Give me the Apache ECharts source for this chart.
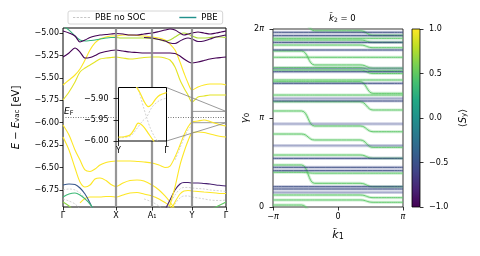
<!DOCTYPE html>
<html><head><meta charset="utf-8">
<script src="https://cdn.jsdelivr.net/npm/echarts@6/dist/echarts.min.js"></script>
<style>html,body{margin:0;padding:0;background:#fff}#c{width:480px;height:256px}</style>
</head><body><div id="c"></div>
<script>
// ---------- LEFT PANEL: band structure ----------
const kPath = [0, 6, 12, 17, 22, 27, 32, 37, 43, 48, 53, 60, 67, 74, 81, 89, 96, 102, 107, 112, 117, 121, 125, 129, 135, 141, 147, 153, 158, 163];
const kTickPos = [0, 53, 89, 129, 163];
const kTickLabels = ['Γ', 'X', 'A₁', 'Y', 'Γ'];
const eTicks = [-6.75, -6.5, -6.25, -6.0, -5.75, -5.5, -5.25, -5.0];
const eRange = [-6.94, -4.944];
const eFermi = -5.944;
function gap(n) { return new Array(n).fill(null); }

const bandY1 = [-5.580, -5.524, -5.468, -5.401, -5.301, -5.190, -5.111, -5.067, -5.045, -5.033, -5.033, -5.022, -5.022, -5.028, -5.033, -5.045, -5.056, -5.078, -5.123, -5.190, -5.323, -5.446, -5.557, -5.635, -5.602, -5.580, -5.569, -5.569, -5.569, -5.580];
const bandY2 = [-5.747, -5.658, -5.546, -5.435, -5.390, -5.357, -5.323, -5.290, -5.279, -5.273, -5.268, -5.279, -5.290, -5.284, -5.273, -5.268, -5.268, -5.279, -5.301, -5.379, -5.524, -5.613, -5.691, -5.769, -5.713, -5.702, -5.691, -5.691, -5.691, -5.691];
const bandG1a = [-4.922, -4.967, -5.033, -5.078, -5.089, -5.084, -5.078, -5.067, -5.056, -5.050, -5.050];
const bandG1b = [...gap(10), -5.050, -5.056, -5.056, -5.056, -5.056, -5.061, -5.072, -5.089, -5.078, -5.045, -5.011, -5.000, -5.011, -5.033, -5.056, -5.056, -5.050, -5.045, -5.045, -5.050];
const bandP0 = [-4.978, -5.000, -5.033, -5.100, -5.078, -5.050, -5.033, -5.022, -5.017, -5.011, -5.006, -5.011, -5.022, -5.022, -5.011, -5.000, -4.983, -4.967, -4.955, -4.967, -5.000, -5.022, -5.011, -5.000, -4.989, -5.000, -5.011, -5.000, -4.989, -4.978];
const bandP1 = [...gap(14), -5.050, -5.056, -5.072, -5.089, -5.111, -5.117, -5.089, -5.067, -5.056, -5.067, -5.095, -5.089, -5.067, -5.045, -5.033, -5.022];
const bandP2 = [-5.268, -5.223, -5.167, -5.212, -5.279, -5.273, -5.251, -5.223, -5.206, -5.195, -5.190, -5.201, -5.212, -5.217, -5.223, -5.223, -5.223, -5.223, -5.223, -5.228, -5.256, -5.290, -5.318, -5.334, -5.323, -5.307, -5.290, -5.279, -5.273, -5.268];
const bandY3 = [-6.026, -6.137, -6.304, -6.416, -6.527, -6.544, -6.516, -6.472, -6.443, -6.432, -6.427, -6.427, -6.427, -6.432, -6.438, -6.449, -6.472, -6.499, -6.483, -6.382, -6.249, -6.137, -6.048, -5.992, -5.981, -5.970, -5.986, -6.009, -6.026, -6.037];
const bandY4 = [-6.159, -6.304, -6.505, -6.661, -6.717, -6.695, -6.628, -6.617, -6.645, -6.689, -6.711, -6.672, -6.645, -6.639, -6.650, -6.695, -6.750, -6.817, -6.884, -6.962, -7.040];
const bandY5 = [...gap(3), -6.895, -6.845, -6.828, -6.828, -6.828, -6.823, -6.823, -6.828, -6.806, -6.784, -6.778, -6.795, -6.817, -6.850, -6.890, -6.929, -6.996];
const bandP3 = [...gap(17), -6.973, -6.862, -6.750, -6.683, -6.667, -6.667, -6.672, -6.672, -6.678, -6.683, -6.695, -6.700, -6.706];
const bandY6 = [...gap(18), -6.996, -6.884, -6.795, -6.761, -6.756, -6.761, -6.767, -6.773, -6.778, -6.784, -6.789, -6.789];
const bandY7 = [...gap(18), -6.918, -6.717, -6.472, -6.327, -6.204, -6.115, -6.104, -6.109, -6.126, -6.142, -6.154, -6.159];
const bandB1 = [-6.695, -6.683, -6.689, -6.728, -6.795, -6.895, -7.029];
const bandG3 = [-6.828, -6.795, -6.784, -6.806, -6.850, -6.906, -6.996];
const bandG4 = [-6.884, -6.929, -6.996];
const bandG5 = [...gap(26), -6.973, -6.940, -6.912, -6.884];
// spin expectation <S_y> of each band (colour)
const bandSpin = [['Y1', bandY1, 1.0], ['Y2', bandY2, 0.92], ['G1a', bandG1a, 0.3], ['G1b', bandG1b, 0.75],
  ['P0', bandP0, -1.0], ['P1', bandP1, -0.95], ['P2', bandP2, -1.0], ['Y3', bandY3, 1.0], ['Y4', bandY4, 1.0],
  ['Y5', bandY5, 1.0], ['P3', bandP3, -0.82], ['Y6', bandY6, 1.0], ['Y7', bandY7, 1.0], ['B1', bandB1, -0.45],
  ['G3', bandG3, 0.35], ['G4', bandG4, 0.65], ['G5', bandG5, 0.5]];
// PBE without SOC (grey)
const noSoc1 = [-6.750, -6.739, -6.750, -6.784, -6.839, -6.918, -7.018];
const noSoc2 = [-6.850, -6.873, -6.906, -6.962];
const noSoc3 = [...gap(17), -7.018, -6.906, -6.806, -6.739, -6.722, -6.722, -6.728, -6.734, -6.739, -6.750, -6.756, -6.761, -6.767];
const noSoc4 = [...gap(18), -7.018, -6.906, -6.839, -6.817, -6.817, -6.828, -6.839, -6.850, -6.862, -6.867, -6.867, -6.862];
const noSoc5 = [...gap(14), -6.850, -6.884, -6.929, -6.984];
const noSoc6 = [...gap(19), -6.416, -6.282, -6.171, -6.081, -6.026];

// inset (Y -> Γ, zoom around E_F)
const insetRange = [-6.00, -5.874];
const insetTicks = [-6.00, -5.95, -5.90];
const insetXLabels = ['Y', 'Γ'];
const insetUpperK = [0.33, 0.38, 0.45, 0.53, 0.62, 0.70, 0.78, 0.86, 1.0];
const insetUpperE = [-5.862, -5.874, -5.887, -5.906, -5.919, -5.913, -5.900, -5.892, -5.886];
const insetLowerK = [0, 0.12, 0.24, 0.33, 0.41, 0.52, 0.62, 0.72, 0.80];
const insetLowerE = [-5.991, -5.990, -5.986, -5.972, -5.958, -5.966, -5.982, -5.998, -6.012];
const insetGreyAK = [0.40, 0.47, 0.53, 0.585, 0.65, 0.75, 0.85];
const insetGreyAE = [-5.872, -5.900, -5.924, -5.944, -5.966, -5.990, -6.005];
const insetGreyBK = [0, 0.25, 0.40, 0.50, 0.585, 0.70, 0.85, 1.0];
const insetGreyBE = [-5.993, -5.988, -5.968, -5.953, -5.944, -5.920, -5.905, -5.899];

// ---------- RIGHT PANEL: Wannier centre flow (units of π) ----------
const kFlat = [-1, 1];
const kFlow = [-1, -0.56, -0.36, 0.34, 0.54, 1];
const blueDark = [1.963, 1.925, 1.850, 1.764, 1.520, 1.390, 1.191, 0.547, 0.446, 0.408, 0.228, 0.202];
const blueLight = [1.558, 1.221, 0.933, 0.689, 0.165];
const flow01 = [2.10, 2.10, 1.98, 1.98, 1.93, 1.93];
const flow02 = [0.022, 0.022, -0.10, -0.10, -0.10, -0.10];
const flow03 = [1.895, 1.895, 1.895, 1.895, 1.895, 1.895];
const flow04 = [1.876, 1.876, 1.876, 1.876, 1.850, 1.850];
const flow05 = [1.820, 1.820, 1.820, 1.820, 1.790, 1.790];
const flow06 = [1.753, 1.753, 1.596, 1.596, 1.560, 1.560];
const flow07 = [1.682, 1.682, 1.682, 1.682, 1.682, 1.682];
const flow08 = [1.566, 1.566, 1.566, 1.566, 1.530, 1.530];
const flow09 = [1.539, 1.539, 1.539, 1.539, 1.500, 1.500];
const flow10 = [1.427, 1.427, 1.427, 1.427, 1.427, 1.427];
const flow11 = [1.408, 1.408, 1.408, 1.408, 1.277, 1.277];
const flow12 = [1.258, 1.258, 1.258, 1.258, 1.258, 1.258];
const flow13 = [1.183, 1.183, 1.183, 1.183, 1.090, 1.090];
const flow14 = [1.079, 1.079, 0.910, 0.910, 0.846, 0.846];
const flow15 = [0.820, 0.820, 0.753, 0.753, 0.670, 0.670];
const flow16 = [0.584, 0.584, 0.584, 0.584, 0.547, 0.547];
const flow17 = [0.472, 0.472, 0.266, 0.266, 0.228, 0.228];
const flow18 = [0.390, 0.390, 0.380, 0.380, 0.380, 0.380];
const flow19 = [0.135, 0.135, 0.135, 0.135, 0.105, 0.105];
const flow20 = [0.079, 0.079, 0.079, 0.079, 0.053, 0.053];
const greenFlows = [flow01, flow02, flow03, flow04, flow05, flow06, flow07, flow08, flow09, flow10,
  flow11, flow12, flow13, flow14, flow15, flow16, flow17, flow18, flow19, flow20];
const cbRange = [-1, 1];

// ---------- helpers ----------
const FONT = 'DejaVu Sans';
const VIR = ['#440154', '#482475', '#414487', '#355f8d', '#2a788e', '#21918c', '#22a884', '#44bf70', '#7ad151', '#bddf26', '#fde725'];
function hex(c) { return [1, 3, 5].map(i => parseInt(c.substr(i, 2), 16)); }
function vir(s) {
  const t = Math.max(0, Math.min(1, (s + 1) / 2)) * 10;
  const i = Math.min(9, Math.floor(t)); const f = t - i;
  const a = hex(VIR[i]), b = hex(VIR[i + 1]);
  return 'rgb(' + a.map((v, j) => Math.round(v + (b[j] - v) * f)).join(',') + ')';
}
function pts(xs, ys) { return xs.map((x, i) => [x, ys[i]]).filter(p => p[1] != null); }
function num(v, d) { return (v < 0 ? '−' : '') + Math.abs(v).toFixed(d); }

const chart = echarts.init(document.getElementById('c'), null, { renderer: 'canvas', width: 480, height: 256 });
const series = [];

series.push({ name: 'PBE no SOC', type: 'line', xAxisIndex: 0, yAxisIndex: 0, data: pts(kPath, noSoc1), symbol: 'none', smooth: 0.3,
  lineStyle: { color: '#c6c6c6', width: 0.8, type: [2, 1.5] }, itemStyle: { color: '#c6c6c6' }, z: 2, silent: true });
[noSoc2, noSoc3, noSoc4, noSoc5, noSoc6].forEach(arr => series.push({ name: 'PBE no SOC', type: 'line', xAxisIndex: 0, yAxisIndex: 0,
  data: pts(kPath, arr), symbol: 'none', smooth: 0.3, lineStyle: { color: '#c6c6c6', width: 0.8, type: [2, 1.5] }, z: 2, silent: true }));
series.push({ name: 'PBE', type: 'line', xAxisIndex: 0, yAxisIndex: 0, data: [], symbol: 'none',
  lineStyle: { color: '#21918c', width: 1.5 }, itemStyle: { color: '#21918c' } });
// high-symmetry lines
series.push({ name: 'hs', type: 'line', xAxisIndex: 0, yAxisIndex: 0, data: [], z: 1, silent: true,
  markLine: { symbol: ['none', 'none'], silent: true, animation: false, label: { show: false },
    lineStyle: { color: '#8c8c8c', width: 2.2, type: 'solid', opacity: 0.9 },
    data: kTickPos.slice(1, 4).map(k => ({ xAxis: k })) } });
bandSpin.forEach(b => series.push({ name: b[0], type: 'line', xAxisIndex: 0, yAxisIndex: 0, data: pts(kPath, b[1]),
  symbol: 'none', smooth: 0.3, lineStyle: { color: vir(b[2]), width: 1.1 }, z: 3, silent: true }));
// Fermi level + zoom indicator
series.push({ name: 'ef', type: 'line', xAxisIndex: 0, yAxisIndex: 0, data: [], z: 4, silent: true,
  markLine: { symbol: ['none', 'none'], silent: true, animation: false,
    lineStyle: { color: '#777', width: 1, type: [1, 1.5] },
    label: { show: true, position: 'insideStartTop', distance: 1, formatter: '{e|E}{f|F}',
      rich: { e: { fontFamily: FONT, fontStyle: 'italic', fontSize: 9, color: '#000' }, f: { fontFamily: FONT, fontSize: 6.5, color: '#000', verticalAlign: 'bottom' } } },
    data: [{ yAxis: eFermi }] },
  markArea: { silent: true, animation: false, itemStyle: { color: 'rgba(0,0,0,0)', borderColor: '#808080', borderWidth: 0.8 },
    data: [[{ xAxis: kTickPos[3], yAxis: insetRange[1] }, { xAxis: kTickPos[4], yAxis: insetRange[0] }]] } });
// inset
[[insetGreyAK, insetGreyAE, '#c6c6c6', 0.8], [insetGreyBK, insetGreyBE, '#c6c6c6', 0.8],
 [insetUpperK, insetUpperE, vir(1), 1.2], [insetLowerK, insetLowerE, vir(1), 1.2]].forEach((s, i) =>
  series.push({ name: 'inset' + i, type: 'line', xAxisIndex: 1, yAxisIndex: 1, data: pts(s[0], s[1]), symbol: 'none', smooth: 0.3,
    lineStyle: { color: s[2], width: s[3], type: i < 2 ? [2, 1.5] : 'solid' }, z: 12, silent: true }));
series.push({ name: 'insetEf', type: 'line', xAxisIndex: 1, yAxisIndex: 1, data: [], z: 12, silent: true,
  markLine: { symbol: ['none', 'none'], silent: true, animation: false, label: { show: false },
    lineStyle: { color: '#777', width: 1, type: [1, 1.5] }, data: [{ yAxis: eFermi }] } });

// right panel: halos then cores
const greenCore = vir(0.48), greenHalo = 'rgba(95,201,110,0.30)';
const blueCore = '#34467e', blueHalo = 'rgba(90,100,160,0.30)';
function flowLine(xs, ys, color, width, z) {
  return { type: 'line', xAxisIndex: 2, yAxisIndex: 2, data: pts(xs, ys), symbol: 'none', smooth: 0.5, smoothMonotone: 'x',
    lineStyle: { color: color, width: width }, z: z, silent: true };
}
greenFlows.forEach(f => series.push(flowLine(kFlow, f, greenHalo, 3, 2)));
blueDark.concat(blueLight).forEach(v => series.push(flowLine(kFlat, [v, v], blueHalo, 3.2, 2)));
greenFlows.forEach(f => series.push(flowLine(kFlow, f, greenCore, 0.9, 3)));
blueDark.forEach(v => series.push(flowLine(kFlat, [v, v], blueCore, 0.9, 4)));
blueLight.forEach(v => series.push(flowLine(kFlat, [v, v], 'rgba(72,82,150,0.45)', 0.8, 4)));

// colour bar
series.push({ type: 'bar', xAxisIndex: 3, yAxisIndex: 3, data: [cbRange[1]], barWidth: '100%', silent: true,
  itemStyle: { color: new echarts.graphic.LinearGradient(0, 0, 0, 1, VIR.slice(5).reverse().map((c, i) => ({ offset: i / 5, color: c }))) } });
series.push({ type: 'bar', xAxisIndex: 3, yAxisIndex: 3, data: [cbRange[0]], barWidth: '100%', barGap: '-100%', silent: true,
  itemStyle: { color: new echarts.graphic.LinearGradient(0, 0, 0, 1, VIR.slice(0, 6).reverse().map((c, i) => ({ offset: i / 5, color: c }))) } });

const lab = { fontFamily: FONT, fontSize: 8, color: '#000' };
const tick = (len) => ({ show: true, length: len, lineStyle: { color: '#000', width: 0.8 } });
const noLine = { show: false, onZero: false };
const piRich = { p: { fontFamily: FONT, fontStyle: 'italic', fontSize: 8, color: '#000' } };
const dashIcon = 'path://M0,0h2.4v1h-2.4z M3.9,0h2.4v1h-2.4z M7.8,0h2.4v1h-2.4z M11.7,0h2.4v1h-2.4z M15.6,0h2.4v1h-2.4z';
const solidIcon = 'path://M0,0h18v1.5h-18z';

chart.setOption({
  animation: false,
  textStyle: { fontFamily: FONT },
  title: { text: '{k|k̃}{s|2}{t| = 0}', left: 324, top: 9,
    textStyle: { fontSize: 8, fontWeight: 'normal', color: '#000', fontFamily: FONT,
      rich: { k: { fontFamily: FONT, fontStyle: 'italic', fontSize: 8.5, color: '#000' }, s: { fontFamily: FONT, fontSize: 6, color: '#000', verticalAlign: 'bottom' }, t: { fontFamily: FONT, fontSize: 8.5, color: '#000' } } } },
  legend: { data: [{ name: 'PBE no SOC', icon: dashIcon }, { name: 'PBE', icon: solidIcon }], left: 68, top: 11,
    itemWidth: 17, itemHeight: 8, itemGap: 34, padding: [2, 5],
    borderColor: '#cccccc', borderWidth: 0.8, borderRadius: 2, selectedMode: false,
    textStyle: { fontSize: 8.5, fontFamily: FONT, color: '#000' } },
  grid: [
    { left: 63, top: 28, width: 163, height: 179, show: true, borderColor: '#000', borderWidth: 1, backgroundColor: 'transparent' },
    { left: 118.5, top: 87.5, width: 48, height: 53.5, show: true, borderColor: '#000', borderWidth: 1, backgroundColor: '#fff', z: 10 },
    { left: 273, top: 29, width: 130, height: 178, show: true, borderColor: '#000', borderWidth: 0.8, backgroundColor: 'transparent' },
    { left: 412, top: 29, width: 8, height: 178, show: true, borderColor: '#000', borderWidth: 0.8, backgroundColor: 'transparent', z: 5 }
  ],
  xAxis: [
    { type: 'value', gridIndex: 0, min: kTickPos[0], max: kTickPos[4], axisLine: noLine, splitLine: { show: false },
      axisTick: Object.assign(tick(3.5), { customValues: kTickPos }),
      axisLabel: Object.assign({}, lab, { customValues: kTickPos, margin: 5, formatter: v => kTickLabels[kTickPos.indexOf(v)] }) },
    { type: 'value', gridIndex: 1, min: 0, max: 1, z: 11, axisLine: noLine, splitLine: { show: false },
      axisTick: Object.assign(tick(5), { customValues: [0, 1] }),
      axisLabel: Object.assign({}, lab, { customValues: [0, 1], margin: 6, formatter: v => insetXLabels[v] }) },
    { type: 'value', gridIndex: 2, min: -1, max: 1, interval: 1, axisLine: noLine, splitLine: { show: false },
      axisTick: tick(3.5),
      axisLabel: Object.assign({}, lab, { margin: 6, rich: piRich, formatter: v => v === 0 ? '0' : (v < 0 ? '−{p|π}' : '{p|π}') }),
      name: '{k|k̃}{s|1}', nameLocation: 'middle', nameGap: 23,
      nameTextStyle: { fontFamily: FONT, fontSize: 11, color: '#000',
        rich: { k: { fontFamily: FONT, fontStyle: 'italic', fontSize: 11, color: '#000' }, s: { fontFamily: FONT, fontSize: 8, color: '#000', verticalAlign: 'bottom' } } } },
    { type: 'category', gridIndex: 3, data: ['cb'], show: false, axisLine: noLine }
  ],
  yAxis: [
    { type: 'value', gridIndex: 0, min: eRange[0], max: eRange[1], axisLine: noLine, splitLine: { show: false },
      axisTick: Object.assign(tick(3.5), { customValues: eTicks }),
      axisLabel: Object.assign({}, lab, { customValues: eTicks, margin: 4, formatter: v => num(v, 2) }),
      name: '{i|E} − {i|E}{s|vac} [eV]', nameLocation: 'middle', nameRotate: 90, nameGap: 42,
      nameTextStyle: { fontFamily: FONT, fontSize: 10, color: '#000',
        rich: { i: { fontFamily: FONT, fontStyle: 'italic', fontSize: 10, color: '#000' }, s: { fontFamily: FONT, fontSize: 7, color: '#000', verticalAlign: 'bottom' } } } },
    { type: 'value', gridIndex: 1, min: insetRange[0], max: insetRange[1], z: 11, axisLine: noLine, splitLine: { show: false },
      axisTick: Object.assign(tick(5), { customValues: insetTicks }),
      axisLabel: Object.assign({}, lab, { customValues: insetTicks, margin: 10, formatter: v => num(v, 2) }) },
    { type: 'value', gridIndex: 2, min: 0, max: 2, interval: 1, axisLine: noLine, splitLine: { show: false },
      axisTick: tick(3.5),
      axisLabel: Object.assign({}, lab, { margin: 9, rich: piRich, formatter: v => v === 0 ? '0' : (v === 1 ? '{p|π}' : '2{p|π}') }),
      name: '{g|γ}{s|0}', nameLocation: 'middle', nameRotate: 90, nameGap: 17,
      nameTextStyle: { fontFamily: FONT, fontSize: 10, color: '#000',
        rich: { g: { fontFamily: FONT, fontStyle: 'italic', fontSize: 10, color: '#000' }, s: { fontFamily: FONT, fontSize: 7, color: '#000', verticalAlign: 'bottom' } } } },
    { type: 'value', gridIndex: 3, position: 'right', min: cbRange[0], max: cbRange[1], interval: 0.5,
      axisLine: noLine, splitLine: { show: false }, axisTick: tick(3.5),
      axisLabel: Object.assign({}, lab, { margin: 9, formatter: v => num(v, 1) }),
      name: '⟨{i|S}{s|y}⟩', nameLocation: 'middle', nameRotate: 90, nameGap: 38,
      nameTextStyle: { fontFamily: FONT, fontSize: 10, color: '#000',
        rich: { i: { fontFamily: FONT, fontStyle: 'italic', fontSize: 10, color: '#000' }, s: { fontFamily: FONT, fontSize: 7, color: '#000', verticalAlign: 'bottom' } } } }
  ],
  series: series
});

// connector lines between inset and zoom rectangle
const a1 = chart.convertToPixel({ gridIndex: 1 }, [1, insetRange[1]]);
const a2 = chart.convertToPixel({ gridIndex: 1 }, [1, insetRange[0]]);
const b1 = chart.convertToPixel({ gridIndex: 0 }, [kTickPos[4], insetRange[1]]);
const b2 = chart.convertToPixel({ gridIndex: 0 }, [kTickPos[4], insetRange[0]]);
chart.setOption({ graphic: [
  { type: 'line', shape: { x1: a1[0], y1: a1[1], x2: b1[0], y2: b1[1] }, style: { stroke: '#808080', lineWidth: 0.8 }, z: 4, silent: true },
  { type: 'line', shape: { x1: a2[0], y1: a2[1], x2: b2[0], y2: b2[1] }, style: { stroke: '#808080', lineWidth: 0.8 }, z: 4, silent: true }
] });
</script></body></html>
